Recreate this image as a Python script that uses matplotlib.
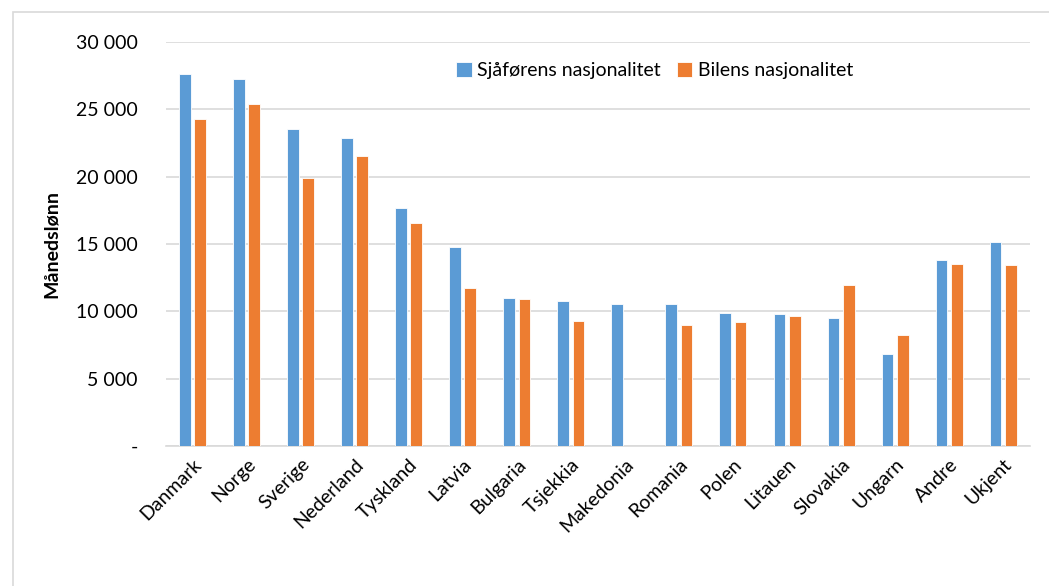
import matplotlib
matplotlib.use("Agg")
import matplotlib.pyplot as plt
import numpy as np
from matplotlib.patches import Rectangle
from matplotlib.ticker import FuncFormatter

countries = ["Danmark", "Norge", "Sverige", "Nederland", "Tyskland", "Latvia", "Bulgaria",
             "Tsjekkia", "Makedonia", "Romania", "Polen", "Litauen", "Slovakia", "Ungarn",
             "Andre", "Ukjent"]
driver_nat = [27600, 27230, 23580, 22870, 17680, 14800, 11000, 10760, 10520, 10520,
              9900, 9780, 9530, 6860, 13800, 15170]
vehicle_nat = [24310, 25420, 19930, 21520, 16580, 11740, 10900, 9310, np.nan, 8950,
               9190, 9660, 11990, 8210, 13550, 13460]
series_names = ["Sjåførens nasjonalitet", "Bilens nasjonalitet"]

BLUE = "#5b9bd5"
ORANGE = "#ed7d31"
GRID = "#d9d9d9"

plt.rcParams["font.family"] = ["Lato", "DejaVu Sans"]

fig = plt.figure(figsize=(10.49, 5.86), dpi=100)
ax = fig.add_axes([0.158, 0.239, 0.824, 0.689])

x = np.arange(len(countries))
w = 0.22
ax.bar(x - 0.14, driver_nat, width=w, color=BLUE, edgecolor="white", linewidth=0.6,
       label=series_names[0], zorder=3)
ax.bar(x + 0.14, vehicle_nat, width=w, color=ORANGE, edgecolor="white", linewidth=0.6,
       label=series_names[1], zorder=3)

ax.set_xlim(-0.5, len(countries) - 0.5)
ax.set_ylim(0, 30000)
ax.set_yticks(np.arange(0, 30001, 5000))
ax.yaxis.set_major_formatter(FuncFormatter(
    lambda v, p: "-" if v == 0 else f"{int(v):,}".replace(",", " ")))
ax.grid(axis="y", color=GRID, linewidth=1.2, zorder=0)
for s in ["top", "right", "left"]:
    ax.spines[s].set_visible(False)
ax.spines["bottom"].set_color(GRID)
ax.spines["bottom"].set_linewidth(1.2)
ax.tick_params(axis="both", length=0, labelsize=14, colors="black")
ax.tick_params(axis="y", pad=20)
ax.tick_params(axis="x", pad=7)
ax.set_xticks(x)
ax.set_xticklabels(countries, rotation=45, ha="right", rotation_mode="anchor", fontsize=14)
ax.set_ylabel("Månedslønn", fontsize=14, fontweight="bold", labelpad=12)

fig.legend(loc="center", bbox_to_anchor=(0.624, 0.88), ncol=2, frameon=False,
           fontsize=14, handlelength=0.8, handleheight=0.8, handletextpad=0.3,
           columnspacing=0.8)

fig.add_artist(Rectangle((13 / 1049, -0.01), 1.1, 1 - 12 / 586 + 0.01,
                         transform=fig.transFigure, fill=False, edgecolor=GRID,
                         linewidth=1.2))

fig.savefig("out.png", dpi=100)
